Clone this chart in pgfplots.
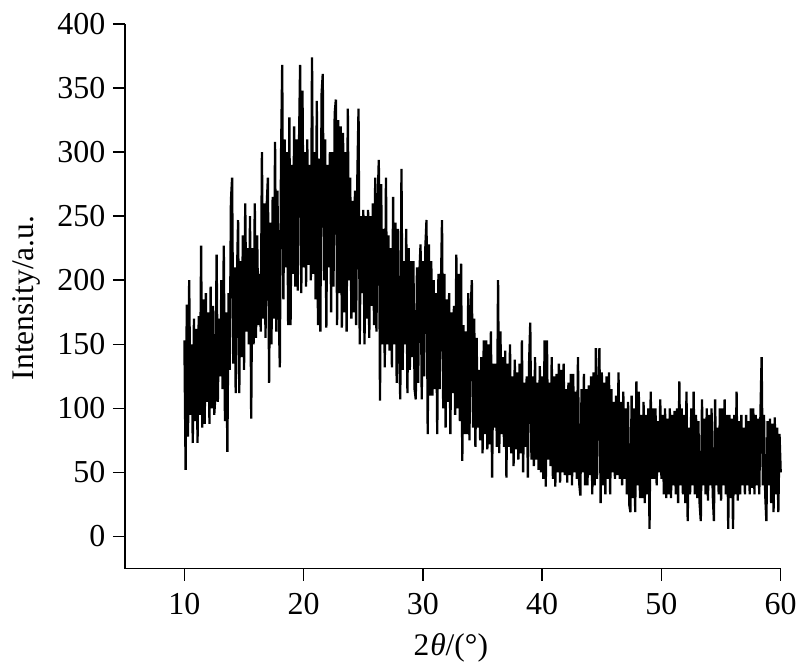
\documentclass[border=0pt]{standalone}
\usepackage{fontspec}
\setmainfont{Liberation Serif}
\usepackage{pgfplots}
\pgfplotsset{compat=1.18}

\begin{document}
\begin{tikzpicture}
\begin{axis}[
    scale only axis,
    width=657pt, height=545.5pt,
    xmin=5, xmax=60,
    ymin=-25, ymax=400,
    axis x line*=bottom,
    axis y line*=left,
    axis line style={black, line width=1.6pt},
    every tick/.style={black, line width=1.5pt},
    tick align=outside,
    major tick length=12pt,
    xtick={10,20,30,40,50,60},
    ytick={0,50,100,150,200,250,300,350,400},
    /pgf/number format/assume math mode=true,
    tick label style={font=\fontsize{32}{34}\selectfont},
    xticklabel style={yshift=-9pt},
    yticklabel style={xshift=-4pt},
    label style={font=\fontsize{31.5}{34}\selectfont},
    xlabel={2\kern1pt\textit{θ}/(°)},
    ylabel={Intensity/a.u.},
    xlabel style={at={(axis description cs:0.497,0)}, anchor=north, yshift=-62pt},
    ylabel style={at={(axis description cs:0,0.497)}, anchor=south, yshift=81pt},
    clip=false,
]
\addplot[black, line width=2.3pt, line join=miter] coordinates {
(10.0,153)(10.1,52)(10.2,181)(10.3,78)(10.4,200)(10.5,95)(10.6,150)(10.7,73)(10.8,170)(10.9,90)
(11.0,162)(11.1,73)(11.2,172)(11.3,95)(11.4,227)(11.5,85)(11.6,185)(11.7,88)(11.8,190)(11.9,105)
(12.0,175)(12.1,88)(12.2,195)(12.3,100)(12.4,180)(12.5,95)(12.6,110)(12.7,220)(12.8,105)(12.9,170)
(13.0,125)(13.1,200)(13.2,115)(13.3,227)(13.4,90)(13.5,175)(13.6,66)(13.7,190)(13.8,130)(13.9,262)
(14.0,280)(14.1,135)(14.2,210)(14.3,112)(14.4,200)(14.5,247)(14.6,112)(14.7,215)(14.8,140)(14.9,235)
(15.0,130)(15.1,260)(15.2,160)(15.3,225)(15.4,150)(15.5,250)(15.6,92)(15.7,225)(15.8,150)(15.9,260)
(16.0,155)(16.1,235)(16.2,165)(16.3,205)(16.4,160)(16.5,300)(16.6,170)(16.7,260)(16.8,155)(16.9,258)
(17.0,280)(17.1,120)(17.2,245)(17.3,150)(17.4,265)(17.5,170)(17.6,308)(17.7,160)(17.8,270)(17.9,180)
(18.0,132)(18.1,295)(18.2,368)(18.3,185)(18.4,310)(18.5,210)(18.6,300)(18.7,165)(18.8,327)(18.9,165)
(19.0,290)(19.1,205)(19.2,320)(19.3,195)(19.4,310)(19.5,192)(19.6,300)(19.7,368)(19.8,190)(19.9,348)
(20.0,210)(20.1,300)(20.2,195)(20.3,310)(20.4,212)(20.5,290)(20.6,200)(20.7,374)(20.8,205)(20.9,300)
(21.0,185)(21.1,340)(21.2,165)(21.3,295)(21.4,160)(21.5,345)(21.6,361)(21.7,200)(21.8,310)(21.9,163)
(22.0,290)(22.1,210)(22.2,300)(22.3,175)(22.4,300)(22.5,195)(22.6,330)(22.7,341)(22.8,165)(22.9,325)
(23.0,190)(23.1,320)(23.2,163)(23.3,315)(23.4,175)(23.5,300)(23.6,160)(23.7,334)(23.8,200)(23.9,280)
(24.0,170)(24.1,262)(24.2,175)(24.3,270)(24.4,165)(24.5,280)(24.6,334)(24.7,150)(24.8,250)(24.9,190)
(25.0,255)(25.1,150)(25.2,250)(25.3,170)(25.4,255)(25.5,155)(25.6,250)(25.7,180)(25.8,260)(25.9,165)
(26.0,280)(26.1,160)(26.2,260)(26.3,294)(26.4,106)(26.5,275)(26.6,150)(26.7,240)(26.8,132)(26.9,280)
(27.0,150)(27.1,235)(27.2,145)(27.3,225)(27.4,132)(27.5,265)(27.6,150)(27.7,245)(27.8,120)(27.9,240)
(28.0,145)(28.1,107)(28.2,287)(28.3,130)(28.4,215)(28.5,150)(28.6,240)(28.7,112)(28.8,225)(28.9,130)
(29.0,215)(29.1,140)(29.2,215)(29.3,115)(29.4,107)(29.5,210)(29.6,120)(29.7,205)(29.8,228)(29.9,107)
(30.0,215)(30.1,125)(30.2,225)(30.3,247)(30.4,80)(30.5,228)(30.6,110)(30.7,215)(30.8,110)(30.9,200)
(31.0,115)(31.1,190)(31.2,80)(31.3,205)(31.4,115)(31.5,190)(31.6,247)(31.7,100)(31.8,205)(31.9,85)
(32.0,185)(32.1,105)(32.2,190)(32.3,80)(32.4,175)(32.5,112)(32.6,180)(32.7,95)(32.8,220)(32.9,100)
(33.0,205)(33.1,90)(33.2,213)(33.3,59)(33.4,165)(33.5,80)(33.6,160)(33.7,80)(33.8,190)(33.9,75)
(34.0,175)(34.1,200)(34.2,85)(34.3,170)(34.4,70)(34.5,155)(34.6,85)(34.7,130)(34.8,75)(34.9,140)
(35.0,65)(35.1,153)(35.2,80)(35.3,153)(35.4,68)(35.5,150)(35.6,72)(35.7,160)(35.8,46)(35.9,135)
(36.0,85)(36.1,135)(36.2,70)(36.3,200)(36.4,65)(36.5,160)(36.6,80)(36.7,140)(36.8,70)(36.9,145)
(37.0,46)(37.1,135)(37.2,70)(37.3,150)(37.4,65)(37.5,125)(37.6,55)(37.7,138)(37.8,68)(37.9,128)
(38.0,60)(38.1,135)(38.2,65)(38.3,153)(38.4,50)(38.5,120)(38.6,70)(38.7,125)(38.8,46)(38.9,135)
(39.0,167)(39.1,60)(39.2,125)(39.3,55)(39.4,140)(39.5,60)(39.6,120)(39.7,52)(39.8,133)(39.9,50)
(40.0,125)(40.1,45)(40.2,153)(40.3,39)(40.4,153)(40.5,60)(40.6,120)(40.7,55)(40.8,140)(40.9,45)
(41.0,125)(41.1,39)(41.2,127)(41.3,50)(41.4,135)(41.5,42)(41.6,130)(41.7,50)(41.8,135)(41.9,48)
(42.0,115)(42.1,42)(42.2,120)(42.3,48)(42.4,127)(42.5,40)(42.6,127)(42.7,50)(42.8,113)(42.9,45)
(43.0,140)(43.1,42)(43.2,32)(43.3,115)(43.4,50)(43.5,127)(43.6,40)(43.7,115)(43.8,40)(43.9,118)
(44.0,48)(44.1,125)(44.2,33)(44.3,128)(44.4,40)(44.5,147)(44.6,45)(44.7,115)(44.8,147)(44.9,26)
(45.0,128)(45.1,40)(45.2,120)(45.3,33)(45.4,125)(45.5,45)(45.6,128)(45.7,33)(45.8,115)(45.9,50)
(46.0,105)(46.1,45)(46.2,110)(46.3,48)(46.4,128)(46.5,45)(46.6,105)(46.7,40)(46.8,113)(46.9,45)
(47.0,100)(47.1,33)(47.2,105)(47.3,25)(47.4,19)(47.5,110)(47.6,30)(47.7,100)(47.8,19)(47.9,121)
(48.0,40)(48.1,113)(48.2,30)(48.3,95)(48.4,30)(48.5,105)(48.6,26)(48.7,95)(48.8,33)(48.9,100)
(49.0,6)(49.1,113)(49.2,45)(49.3,100)(49.4,45)(49.5,100)(49.6,40)(49.7,90)(49.8,50)(49.9,107)
(50.0,45)(50.1,95)(50.2,33)(50.3,100)(50.4,30)(50.5,92)(50.6,33)(50.7,100)(50.8,30)(50.9,95)
(51.0,40)(51.1,98)(51.2,33)(51.3,100)(51.4,26)(51.5,121)(51.6,40)(51.7,100)(51.8,33)(51.9,95)
(52.0,26)(52.1,113)(52.2,12)(52.3,85)(52.4,33)(52.5,100)(52.6,40)(52.7,113)(52.8,33)(52.9,95)
(53.0,30)(53.1,90)(53.2,26)(53.3,12)(53.4,107)(53.5,40)(53.6,92)(53.7,33)(53.8,100)(53.9,28)
(54.0,95)(54.1,40)(54.2,100)(54.3,33)(54.4,12)(54.5,107)(54.6,40)(54.7,85)(54.8,33)(54.9,100)
(55.0,28)(55.1,100)(55.2,40)(55.3,107)(55.4,33)(55.5,95)(55.6,6)(55.7,95)(55.8,30)(55.9,92)
(56.0,6)(56.1,95)(56.2,33)(56.3,113)(56.4,28)(56.5,90)(56.6,33)(56.7,95)(56.8,40)(56.9,85)
(57.0,33)(57.1,95)(57.2,40)(57.3,90)(57.4,33)(57.5,100)(57.6,38)(57.7,100)(57.8,33)(57.9,95)
(58.0,40)(58.1,92)(58.2,33)(58.3,95)(58.4,140)(58.5,40)(58.6,95)(58.7,33)(58.8,12)(58.9,90)
(59.0,40)(59.1,92)(59.2,26)(59.3,88)(59.4,19)(59.5,93)(59.6,33)(59.7,85)(59.8,19)(59.9,80)
(60.0,50)
};
\end{axis}
\useasboundingbox (-125pt,-96.5pt) rectangle (675pt,569.5pt);
\end{tikzpicture}
\end{document}
